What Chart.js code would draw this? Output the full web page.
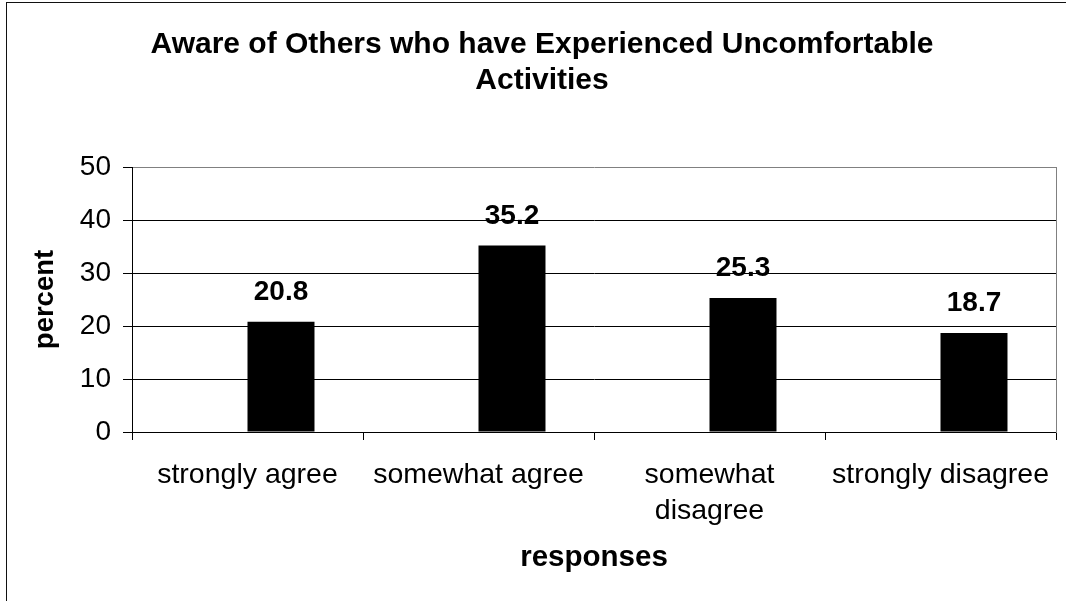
<!DOCTYPE html>
<html>
<head>
<meta charset="utf-8">
<title>Aware of Others who have Experienced Uncomfortable Activities</title>
<script src="https://cdn.jsdelivr.net/npm/chart.js@4.4.1/dist/chart.umd.min.js"></script>
<style>
  html, body { margin: 0; padding: 0; background: #fff; overflow: hidden; width: 1066px; height: 601px; }
  #frame { position: absolute; left: 6px; top: 2px; width: 1070px; height: 610px;
           border-left: 1px solid #111; border-top: 1px solid #111; }
  canvas { display: block; }
</style>
</head>
<body>
<div id="frame"><canvas id="chart" width="1070" height="610"></canvas></div>
<script>
// Survey responses (percent of respondents)
const categories = ['strongly agree', 'somewhat agree', ['somewhat', 'disagree'], 'strongly disagree'];
const percentValues = [20.8, 35.2, 25.3, 18.7];
// empty companion series that keeps the left half of each category open
const emptySlot = [null, null, null, null];
const yTicks = [0, 10, 20, 30, 40, 50];

const FONT = "'Liberation Sans', Arial, Helvetica, sans-serif";

// value printed above each bar
const valueLabels = {
  id: 'valueLabels',
  afterDatasetsDraw(chart) {
    const ctx = chart.ctx;
    const meta = chart.getDatasetMeta(1);
    ctx.save();
    ctx.font = 'bold 28px ' + FONT;
    ctx.fillStyle = '#000';
    ctx.textAlign = 'center';
    ctx.textBaseline = 'alphabetic';
    meta.data.forEach((bar, i) => {
      ctx.fillText(percentValues[i].toFixed(1), bar.x, bar.y - 21.5);
    });
    ctx.restore();
  }
};

Chart.defaults.color = '#000';
Chart.defaults.font.family = FONT;

new Chart(document.getElementById('chart'), {
  type: 'bar',
  data: {
    labels: categories,
    datasets: [
      { label: 'empty', data: emptySlot, backgroundColor: '#000' },
      { label: 'percent', data: percentValues, backgroundColor: '#000', borderWidth: 0 }
    ]
  },
  options: {
    responsive: false,
    animation: false,
    events: [],
    categoryPercentage: 0.58,
    barPercentage: 1,
    layout: { padding: 0 },
    plugins: {
      legend: { display: false },
      tooltip: { enabled: false },
      title: {
        display: true,
        text: ['Aware of Others who have Experienced Uncomfortable', 'Activities'],
        color: '#000',
        font: { size: 30, weight: 'bold', lineHeight: 1.2 },
        padding: { top: 23.3, bottom: 68.7 }
      }
    },
    scales: {
      x: {
        offset: true,
        afterFit(scale) { scale.height = 181; },
        grid: { display: true, offset: true, drawOnChartArea: false, drawTicks: true,
                tickLength: 8, tickColor: '#000', color: '#000' },
        border: { display: true, color: '#000', width: 1 },
        ticks: { font: { size: 28.5, lineHeight: 1.246 }, padding: 17.5, color: '#000',
                 maxRotation: 0, minRotation: 0, autoSkip: false },
        title: { display: true, text: 'responses', color: '#000',
                 font: { size: 29.5, weight: 'bold', lineHeight: 1.2 },
                 padding: { top: 0, bottom: 37.5 } }
      },
      y: {
        min: 0,
        max: 50,
        afterFit(scale) { scale.width = 125; },
        afterBuildTicks(scale) { scale.ticks = yTicks.map(v => ({ value: v })); },
        grid: {
          color: c => (c.tick && c.tick.value === 50 ? '#808080' : '#000'),
          tickColor: '#000',
          tickLength: 9,
          lineWidth: 1
        },
        border: { display: true, color: '#000', width: 1 },
        ticks: { font: { size: 28 }, padding: 12, color: '#000' },
        title: { display: true, text: 'percent', color: '#000',
                 font: { size: 27.5, weight: 'bold', lineHeight: 1.2 },
                 padding: { top: 21.5, bottom: 0 } }
      },
      // right-hand edge of the plot area (grey frame line)
      edge: {
        type: 'linear',
        position: 'right',
        display: true,
        afterFit(scale) { scale.width = 21; },
        grid: { display: false, drawTicks: false },
        ticks: { display: false },
        border: { display: true, color: '#808080', width: 1 }
      }
    }
  },
  plugins: [valueLabels]
});
</script>
</body>
</html>
